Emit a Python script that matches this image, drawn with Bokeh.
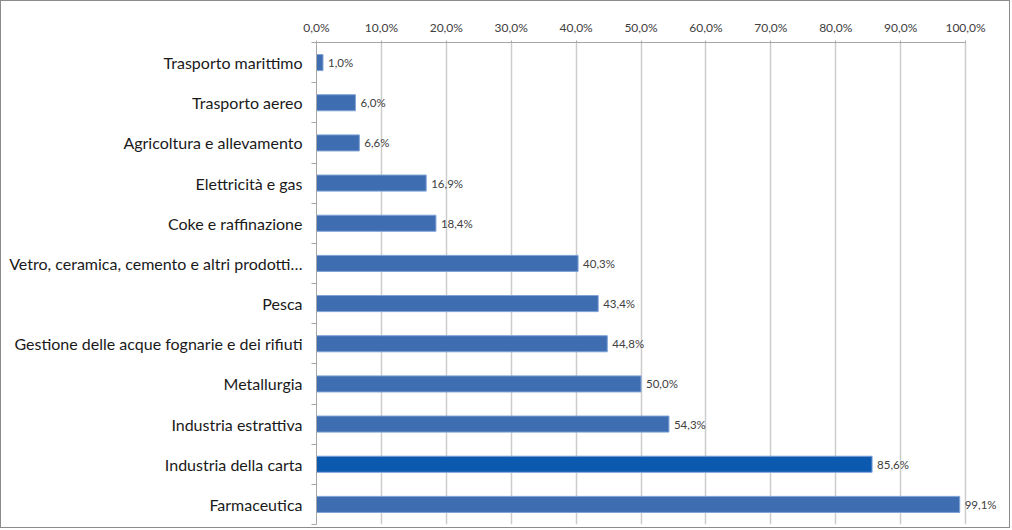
from bokeh.plotting import figure
from bokeh.models import Range1d, FixedTicker, ColumnDataSource, LabelSet
from bokeh.core.properties import value
from bokeh.embed import file_html
from bokeh.resources import INLINE

categories = [
    "Trasporto marittimo",
    "Trasporto aereo",
    "Agricoltura e allevamento",
    "Elettricità e gas",
    "Coke e raffinazione",
    "Vetro, ceramica, cemento e altri prodotti…",
    "Pesca",
    "Gestione delle acque fognarie e dei rifiuti",
    "Metallurgia",
    "Industria estrattiva",
    "Industria della carta",
    "Farmaceutica",
]
values = [1.0, 6.0, 6.6, 16.9, 18.4, 40.3, 43.4, 44.8, 50.0, 54.3, 85.6, 99.1]
highlight = "Industria della carta"
x_ticks = [0, 10, 20, 30, 40, 50, 60, 70, 80, 90, 100]

n = len(categories)
idx = list(range(n))
colors = ["#0B5AB0" if c == highlight else "#3F6DB1" for c in categories]
labels = [f"{v:.1f}".replace(".", ",") + "%" for v in values]

src = ColumnDataSource(dict(y=idx, v=values, color=colors, lab=labels))

p = figure(width=1010, height=528, output_backend="svg", toolbar_location=None,
           x_range=Range1d(0, 106), y_range=Range1d(n - 0.5, -0.5),
           x_axis_location="above",
           min_border_left=315, min_border_top=41, min_border_right=7,
           min_border_bottom=5)
p.styles = {"border": "1px solid #8c8c8c"}
p.outline_line_color = None
p.background_fill_color = "white"

p.hbar(y="y", right="v", left=0, height=0.4, source=src, fill_color="color",
       line_color="#7FA2D6", line_width=1)

lbl = LabelSet(x="v", y="y", text="lab", source=src, x_offset=5,
               text_baseline="middle", text_font_size="11.5px",
               text_color="#404040", text_font=value("Lato"))
p.add_layout(lbl)

xa = p.xaxis[0]
xa.ticker = FixedTicker(ticks=x_ticks)
xa.bounds = (0, 100)
xa.major_label_overrides = {t: f"{t:.1f}".replace(".", ",") + "%" for t in x_ticks}
xa.major_label_text_font = "Lato"
xa.major_label_text_font_size = "12px"
xa.major_label_text_color = "#404040"
xa.axis_line_color = "#a6a6a6"
xa.major_tick_line_color = "#a6a6a6"
xa.major_tick_out = 2
xa.major_tick_in = 0
xa.minor_tick_line_color = None
xa.major_label_standoff = 6

ya = p.yaxis[0]
ya.ticker = FixedTicker(ticks=idx, minor_ticks=[i - 0.5 for i in range(n + 1)])
ya.major_label_overrides = {i: c for i, c in enumerate(categories)}
ya.major_label_text_font = "Lato"
ya.major_label_text_font_size = "16px"
ya.major_label_text_color = "#1a1a1a"
ya.major_tick_line_color = None
ya.minor_tick_line_color = "#a6a6a6"
ya.minor_tick_out = 5
ya.minor_tick_in = 0
ya.axis_line_color = "#a6a6a6"
ya.major_label_standoff = 8

p.xgrid.ticker = FixedTicker(ticks=x_ticks)
p.xgrid.grid_line_color = "#cccccc"
p.xgrid.grid_line_width = 1.5
p.ygrid.grid_line_color = None

open("out.html", "w").write(file_html(p, INLINE))
